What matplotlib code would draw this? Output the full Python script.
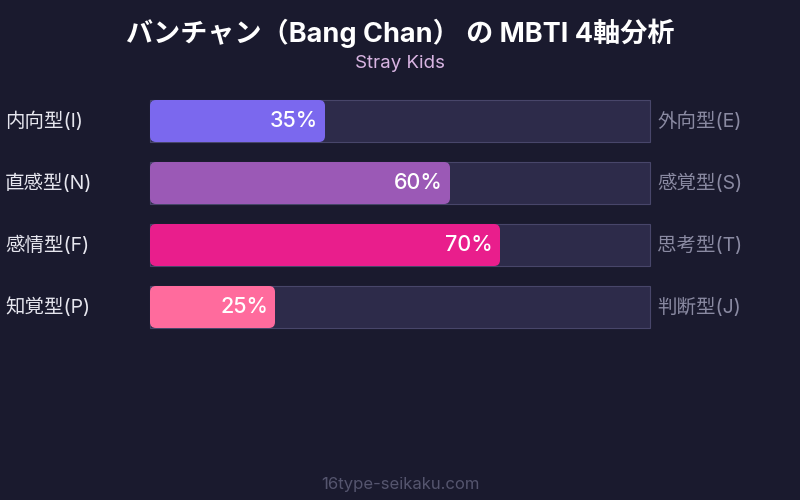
import matplotlib
matplotlib.use("Agg")
import matplotlib.pyplot as plt
from matplotlib.patches import FancyBboxPatch

plt.rcParams['font.family'] = ['Inter', 'Noto Sans CJK JP', 'DejaVu Sans']

TITLE = "バンチャン（Bang Chan） の MBTI 4軸分析"
SUBTITLE = "Stray Kids"
FOOTER = "16type-seikaku.com"

left_labels = ["内向型(I)", "直感型(N)", "感情型(F)", "知覚型(P)"]
right_labels = ["外向型(E)", "感覚型(S)", "思考型(T)", "判断型(J)"]
percents = [35, 60, 70, 25]
colors = ["#7b68ee", "#9b59b6", "#e91e8c", "#ff6b9d"]

BG = "#1a1a2e"
TRACK = "#2d2b4a"
TRACK_EDGE = "#48466a"

# axes spans the whole figure, 1 data unit = 1 pixel
fig = plt.figure(figsize=(8, 5), dpi=100, facecolor=BG)
ax = fig.add_axes([0, 0, 1, 1])
ax.set_xlim(0, 800)
ax.set_ylim(500, 0)
ax.set_facecolor(BG)
ax.axis("off")

x0, track_w = 150, 500
bar_h = 42
row_y = [121 + 62 * i for i in range(len(percents))]

for y, pct, col, ll, rl in zip(row_y, percents, colors, left_labels, right_labels):
    ax.barh(y, track_w, left=x0, height=bar_h, color=TRACK,
            edgecolor=TRACK_EDGE, linewidth=0.8)
    w = track_w * pct / 100
    r = 6
    ax.add_patch(FancyBboxPatch((x0 + r, y - bar_h / 2 + r), w - 2 * r, bar_h - 2 * r,
                                boxstyle=f"round,pad={r}", facecolor=col,
                                edgecolor="none", zorder=3))
    ax.text(x0 + w - 7, y, f"{pct}%", ha="right", va="center",
            fontsize=15.5, fontweight="medium", color="white", zorder=4)
    ax.text(5, y, ll, ha="left", va="center", fontsize=14, color="#e6e6ee")
    ax.text(657, y, rl, ha="left", va="center", fontsize=14, color="#8a8aa2")

ax.text(400, 33, TITLE, ha="center", va="center", fontsize=19.5,
        fontweight="bold", color="white")
ax.text(400, 63, SUBTITLE, ha="center", va="center", fontsize=13.5,
        color="#d8b4e2")
ax.text(400, 484, FOOTER, ha="center", va="center", fontsize=12,
        color="#55556e")

fig.savefig("out.png", dpi=100, facecolor=BG)
